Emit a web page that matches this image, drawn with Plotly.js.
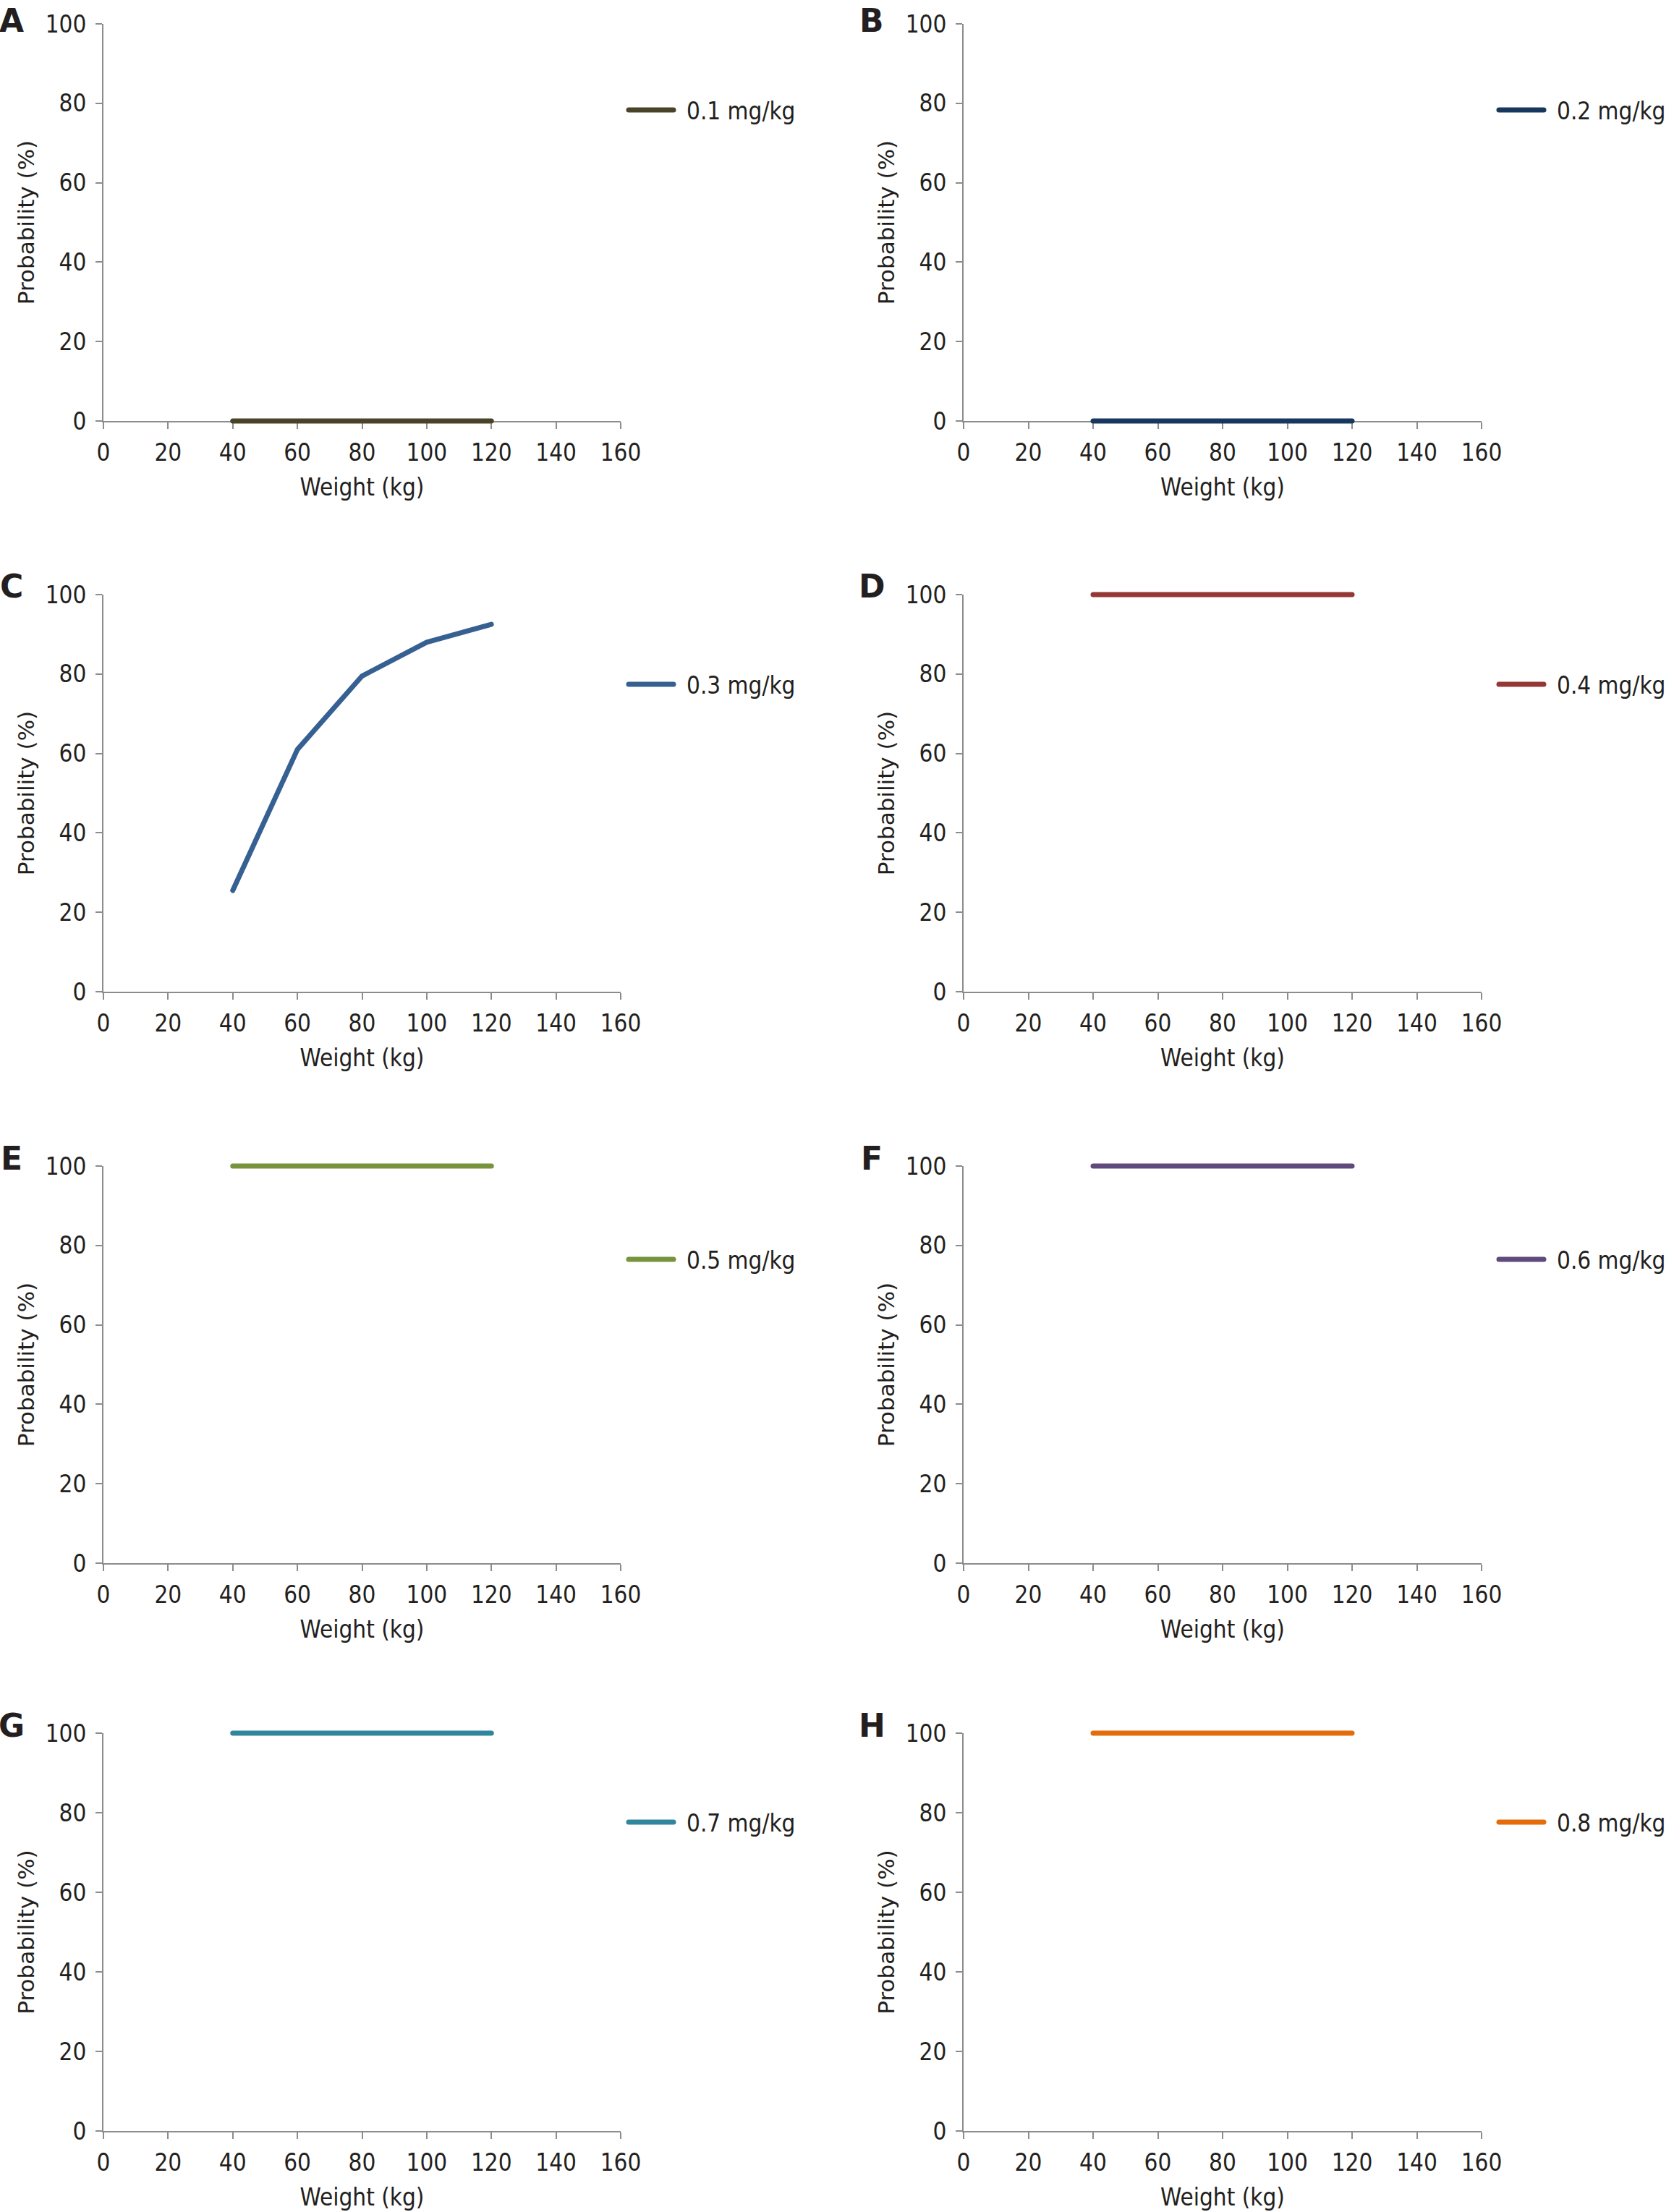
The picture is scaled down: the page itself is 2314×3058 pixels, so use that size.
<!DOCTYPE html>
<html>
<head>
<meta charset="utf-8">
<script src="https://cdn.plot.ly/plotly-3.0.1.min.js"></script>
<style>
    html, body { margin: 0; padding: 0; background: #ffffff; }
    /* let the thick lines at 0 and 100 show their full width, as in the original */
    .main-svg [clip-path] { clip-path: none !important; }
    .main-svg .js-line { stroke-linecap: round; stroke-linejoin: round; }
</style>
</head>
<body>
<div id="chart"></div>
<script>
// Weight (kg) on the x axis, same for every panel
const weightKg = [40, 60, 80, 100, 120];

// Probability (%) for each dose
const probDose01 = [0, 0, 0, 0, 0];
const probDose02 = [0, 0, 0, 0, 0];
const probDose03 = [25.5, 61, 79.5, 88, 92.5];
const probDose04 = [100, 100, 100, 100, 100];
const probDose05 = [100, 100, 100, 100, 100];
const probDose06 = [100, 100, 100, 100, 100];
const probDose07 = [100, 100, 100, 100, 100];
const probDose08 = [100, 100, 100, 100, 100];

const doseLabels = ['0.1 mg/kg', '0.2 mg/kg', '0.3 mg/kg', '0.4 mg/kg',
                    '0.5 mg/kg', '0.6 mg/kg', '0.7 mg/kg', '0.8 mg/kg'];
const panelLetters = ['A', 'B', 'C', 'D', 'E', 'F', 'G', 'H'];
const xTickVals = [0, 20, 40, 60, 80, 100, 120, 140, 160];
const yTickVals = [0, 20, 40, 60, 80, 100];

const allSeries = [probDose01, probDose02, probDose03, probDose04,
                   probDose05, probDose06, probDose07, probDose08];

// Styling
const lineColors = ['#494429', '#17375E', '#376092', '#953735',
                    '#77933C', '#604A7B', '#31859C', '#E46C0A'];
const axisGray = '#8c8c8c';
const textColor = '#231f20';
const tickFont = '"DejaVu Sans Condensed", "Liberation Sans", Arial, sans-serif';
const wideFont = '"DejaVu Sans", Verdana, sans-serif';

// Page geometry (pixels)
const PAGE_W = 2314;
const PAGE_H = 3058;
const colX = [[143, 858], [1332, 2048]];
const rowY = [[33, 582], [822, 1371], [1612, 2161], [2396, 2946]];
const letterLift = [5, 11, 11, 11];
const legendLeft = [864, 2067];
const legendMid = [152, 946, 1741, 2519];
const legendSampleLen = 62;

const fx = px => px / PAGE_W;
const fy = px => 1 - px / PAGE_H;

const traces = [];
const layout = {
    width: PAGE_W,
    height: PAGE_H,
    margin: { t: 0, r: 0, b: 0, l: 0, autoexpand: false },
    paper_bgcolor: '#ffffff',
    plot_bgcolor: '#ffffff',
    font: { family: tickFont, color: textColor, size: 33 },
    showlegend: true,
    annotations: []
};

allSeries.forEach((values, i) => {
    const n = i + 1;
    const col = i % 2;
    const row = Math.floor(i / 2);
    const suffix = n === 1 ? '' : String(n);
    const legendId = 'legend' + suffix;

    traces.push({
        type: 'scatter',
        mode: 'lines',
        x: weightKg,
        y: values,
        name: doseLabels[i],
        xaxis: 'x' + suffix,
        yaxis: 'y' + suffix,
        legend: legendId,
        cliponaxis: false,
        line: { color: lineColors[i], width: 7 },
        hoverinfo: 'skip'
    });

    layout['xaxis' + suffix] = {
        domain: [fx(colX[col][0]), fx(colX[col][1])],
        anchor: 'y' + suffix,
        range: [0, 160],
        tickvals: xTickVals,
        ticks: 'outside',
        ticklen: 9,
        tickwidth: 2,
        tickcolor: axisGray,
        showline: true,
        linecolor: axisGray,
        linewidth: 2,
        showgrid: false,
        zeroline: false,
        layer: 'below traces',
        tickfont: { family: tickFont, size: 33, color: textColor },
        ticklabelstandoff: 4,
        title: {
            text: 'Weight (kg)',
            font: { family: tickFont, size: 33, color: textColor },
            standoff: 18
        },
        fixedrange: true
    };

    layout['yaxis' + suffix] = {
        domain: [fy(rowY[row][1]), fy(rowY[row][0])],
        anchor: 'x' + suffix,
        range: [0, 100],
        tickvals: yTickVals,
        ticks: 'outside',
        ticklen: 9,
        tickwidth: 2,
        tickcolor: axisGray,
        showline: true,
        linecolor: axisGray,
        linewidth: 2,
        showgrid: false,
        zeroline: false,
        layer: 'below traces',
        tickfont: { family: tickFont, size: 33, color: textColor },
        ticklabelstandoff: 6,
        title: {
            text: 'Probability (%)',
            font: { family: wideFont, size: 31, color: textColor },
            standoff: 6
        },
        fixedrange: true
    };

    layout[legendId] = {
        x: fx(legendLeft[col]),
        y: fy(legendMid[row]),
        xanchor: 'left',
        yanchor: 'middle',
        bgcolor: 'rgba(0,0,0,0)',
        borderwidth: 0,
        itemwidth: 75,
        font: { family: tickFont, size: 33, color: textColor }
    };

    // panel letter
    layout.annotations.push({
        xref: 'paper',
        yref: 'paper',
        x: fx(colX[col][0] - 127),
        y: fy(rowY[row][0] - letterLift[row]),
        xanchor: 'center',
        yanchor: 'middle',
        showarrow: false,
        text: '<b>' + panelLetters[i] + '</b>',
        font: { family: wideFont, size: 44, color: textColor }
    });
});

Plotly.newPlot('chart', traces, layout, { displayModeBar: false, staticPlot: true }).then(() => {
    // shorten the legend line samples so there is a gap before the label
    document.querySelectorAll('.legendlines path').forEach(p => {
        const d = p.getAttribute('d') || '';
        p.setAttribute('d', d.replace(/h[\d.]+/, 'h' + legendSampleLen));
    });
});
</script>
</body>
</html>
